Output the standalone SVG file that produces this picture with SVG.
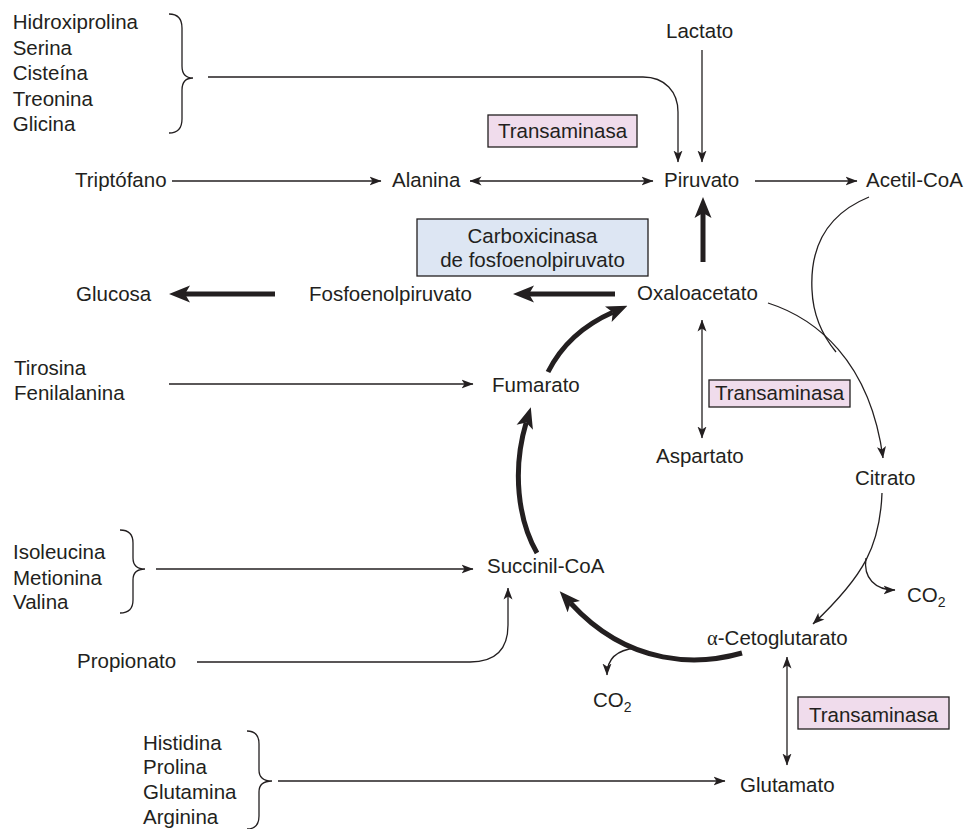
<svg xmlns="http://www.w3.org/2000/svg" width="965" height="829" viewBox="0 0 965 829">
<style>
text{font-family:"Liberation Sans",Arial,sans-serif;font-size:20.5px;fill:#231f20}
.ln{fill:none;stroke:#231f20;stroke-width:1.3}
.tk{fill:none;stroke:#231f20;stroke-width:5}
.br{fill:none;stroke:#231f20;stroke-width:1.3}
.ts{fill:#f0dcec;stroke:#231f20;stroke-width:1.3}
.cb{fill:#dde6f3;stroke:#231f20;stroke-width:1.3}
.gk{font-family:"Liberation Serif","Times New Roman",serif}
</style>
<defs>
<marker id="a" viewBox="0 -5 12 10" refX="11.5" refY="0" markerWidth="12" markerHeight="10" markerUnits="userSpaceOnUse" orient="auto-start-reverse"><path d="M0,-4.5 L12,0 L0,4.5 L3,0 Z" fill="#231f20"/></marker>
<marker id="t" viewBox="0 -9 21 18" refX="5" refY="0" markerWidth="21" markerHeight="18" markerUnits="userSpaceOnUse" orient="auto"><path d="M0,-8.5 L21,0 L0,8.5 L5,0 Z" fill="#231f20"/></marker>
</defs>
<rect width="965" height="829" fill="#ffffff"/>

<g id="connectors">
<path class="ln" d="M208,77 L643,77 C665,77 678,92 678,112 L678,162" marker-end="url(#a)"/>
<path class="ln" d="M702,50 V162" marker-end="url(#a)"/>
<path class="ln" d="M172,181 H381" marker-end="url(#a)"/>
<path class="ln" d="M470,181 H653" marker-start="url(#a)" marker-end="url(#a)"/>
<path class="ln" d="M755,181 H857" marker-end="url(#a)"/>
<path class="ln" d="M869,197 C825,215 810,250 812,290 C813,315 822,335 836,352"/>
<path class="ln" d="M768,303 C815,318 870,360 883,458" marker-end="url(#a)"/>
<path class="ln" d="M702,320 V438" marker-start="url(#a)" marker-end="url(#a)"/>
<path class="tk" d="M615,294 H529" marker-end="url(#t)"/>
<path class="tk" d="M275,294 H185" marker-end="url(#t)"/>
<path class="tk" d="M703,262 V213" marker-end="url(#t)"/>
<path class="ln" d="M169,384 H473" marker-end="url(#a)"/>
<path class="tk" d="M548,372 Q568,332 612.8,312.2" marker-end="url(#t)"/>
<path class="tk" d="M537,553 C518,520 512,470 526.2,422.5" marker-end="url(#t)"/>
<path class="tk" d="M742,653 C700,665 630,668 570.5,603" marker-end="url(#t)"/>
<path class="ln" d="M636,648 C615,650 607,660 607,675" marker-end="url(#a)"/>
<path class="ln" d="M882,493 C880,545 865,575 813,624" marker-end="url(#a)"/>
<path class="ln" d="M866,558 C863,578 875,590 895,590" marker-end="url(#a)"/>
<path class="ln" d="M787,657 V765" marker-start="url(#a)" marker-end="url(#a)"/>
<path class="ln" d="M278,781 H725" marker-end="url(#a)"/>
<path class="ln" d="M156,569 H473" marker-end="url(#a)"/>
<path class="ln" d="M197,662 H470 C495,662 508,650 508,625 V588" marker-end="url(#a)"/>
</g>

<g id="group-top">
<text x="12.7" y="29">Hidroxiprolina</text>
<text x="12.7" y="54.5">Serina</text>
<text x="12.7" y="80">Cisteína</text>
<text x="12.7" y="105.5">Treonina</text>
<text x="12.7" y="131">Glicina</text>
<path class="br" d="M169,14 Q182,14 182,28 L182,66 Q182,78 193,78 Q182,78 182,90 L182,119 Q182,133 169,133"/>
</g>
<g id="lactato"><text x="666" y="38">Lactato</text></g>
<g id="transaminasa-1"><rect class="ts" x="488" y="115" width="149" height="32"/><text x="562.5" y="138" text-anchor="middle">Transaminasa</text></g>
<g id="triptofano"><text x="75" y="187">Triptófano</text></g>
<g id="alanina"><text x="392" y="187">Alanina</text></g>
<g id="piruvato"><text x="664" y="187">Piruvato</text></g>
<g id="acetil-coa"><text x="866" y="187">Acetil-CoA</text></g>
<g id="carboxicinasa"><rect class="cb" x="417" y="219" width="231" height="57"/><text x="532.5" y="243" text-anchor="middle">Carboxicinasa</text><text x="532.5" y="267" text-anchor="middle">de fosfoenolpiruvato</text></g>
<g id="glucosa"><text x="76" y="301">Glucosa</text></g>
<g id="fosfoenolpiruvato"><text x="309" y="301">Fosfoenolpiruvato</text></g>
<g id="oxaloacetato"><text x="637" y="300">Oxaloacetato</text></g>
<g id="tirosina"><text x="14" y="375">Tirosina</text><text x="14" y="400">Fenilalanina</text></g>
<g id="fumarato"><text x="492" y="392">Fumarato</text></g>
<g id="transaminasa-2"><rect class="ts" x="709" y="380" width="141" height="27"/><text x="779.5" y="400" text-anchor="middle">Transaminasa</text></g>
<g id="aspartato"><text x="656" y="463">Aspartato</text></g>
<g id="citrato"><text x="855" y="485">Citrato</text></g>
<g id="group-mid">
<text x="13" y="559">Isoleucina</text>
<text x="13" y="585">Metionina</text>
<text x="13" y="609">Valina</text>
<path class="br" d="M120,530 Q133,530 133,543 L133,558 Q133,569 145,569 Q133,569 133,580 L133,600 Q133,613 120,613"/>
</g>
<g id="succinil-coa"><text x="487" y="573">Succinil-CoA</text></g>
<g id="co2-a"><text x="907" y="602">CO<tspan font-size="14" dy="5">2</tspan></text></g>
<g id="cetoglutarato"><text x="707" y="645"><tspan class="gk">α</tspan>-Cetoglutarato</text></g>
<g id="propionato"><text x="77" y="668">Propionato</text></g>
<g id="co2-b"><text x="593" y="707">CO<tspan font-size="14" dy="5">2</tspan></text></g>
<g id="transaminasa-3"><rect class="ts" x="798" y="697" width="151" height="32"/><text x="873.5" y="722" text-anchor="middle">Transaminasa</text></g>
<g id="glutamato"><text x="740" y="792">Glutamato</text></g>
<g id="group-bottom">
<text x="143" y="750">Histidina</text>
<text x="143" y="774">Prolina</text>
<text x="143" y="799">Glutamina</text>
<text x="143" y="824">Arginina</text>
<path class="br" d="M247,731 Q259,731 259,744 L259,770 Q259,781 272,781 Q259,781 259,792 L259,816 Q259,829 247,829"/>
</g>
</svg>
